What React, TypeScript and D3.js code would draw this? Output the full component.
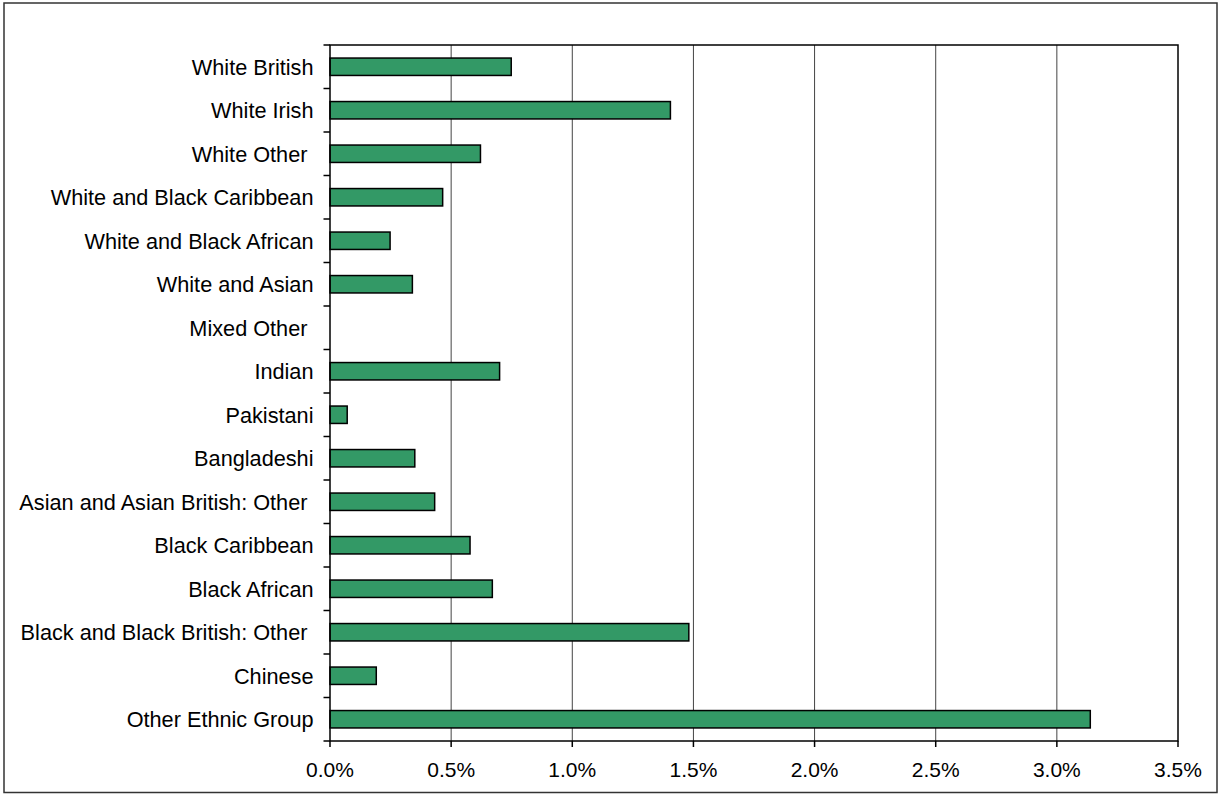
import React from "react";
import * as d3 from "d3";

const categories = [
  "White British",
  "White Irish",
  "White Other ",
  "White and Black Caribbean",
  "White and Black African",
  "White and Asian",
  "Mixed Other ",
  "Indian",
  "Pakistani",
  "Bangladeshi",
  "Asian and Asian British: Other ",
  "Black Caribbean",
  "Black African",
  "Black and Black British: Other ",
  "Chinese",
  "Other Ethnic Group",
];

const values = [
  0.748, 1.405, 0.621, 0.465, 0.248, 0.34, 0, 0.70, 0.071, 0.35, 0.432, 0.578,
  0.67, 1.481, 0.191, 3.138,
];

const xTicks = [0, 0.5, 1.0, 1.5, 2.0, 2.5, 3.0, 3.5];

const W = 1219;
const H = 794;
const plot = { left: 330, right: 1178, top: 45, bottom: 741 };
const FONT = "'Liberation Sans', Arial, Helvetica, sans-serif";

export default function App() {
  const x = d3.scaleLinear().domain([0, 3.5]).range([plot.left, plot.right]);
  const y = d3
    .scaleBand<string>()
    .domain(categories)
    .range([plot.top, plot.bottom])
    .paddingInner(0.6)
    .paddingOuter(0.3);
  const step = (plot.bottom - plot.top) / categories.length;
  const bounds = d3.range(categories.length + 1).map((i) => plot.top + i * step);

  return (
    <svg
      width={W}
      height={H}
      style={{ position: "absolute", left: 0, top: 0, background: "#fff" }}
    >
      <rect x={4} y={3} width={1213} height={789.5} fill="#fff" stroke="#333" strokeWidth={1.5} />
      {/* gridlines */}
      {xTicks.slice(1, -1).map((t) => (
        <line
          key={"g" + t}
          x1={x(t)}
          x2={x(t)}
          y1={plot.top}
          y2={plot.bottom}
          stroke="#444"
          strokeWidth={1}
        />
      ))}
      {/* bars */}
      {categories.map((c, i) =>
        values[i] > 0 ? (
          <rect
            key={"b" + i}
            x={x(0)}
            y={y(c)!}
            width={x(values[i]) - x(0)}
            height={y.bandwidth()}
            fill="#339966"
            stroke="#000"
            strokeWidth={1.5}
          />
        ) : null
      )}
      {/* plot frame */}
      <rect
        x={plot.left}
        y={plot.top}
        width={plot.right - plot.left}
        height={plot.bottom - plot.top}
        fill="none"
        stroke="#000"
        strokeWidth={1.5}
      />
      {/* y ticks */}
      {bounds.map((b, i) => (
        <line key={"yt" + i} x1={plot.left - 6.5} x2={plot.left} y1={b} y2={b} stroke="#000" strokeWidth={1.5} />
      ))}
      {/* x ticks */}
      {xTicks.map((t) => (
        <line key={"xt" + t} x1={x(t)} x2={x(t)} y1={plot.bottom} y2={plot.bottom + 6} stroke="#000" strokeWidth={1.5} />
      ))}
      {/* y labels */}
      {categories.map((c) => (
        <text
          key={"l" + c}
          x={plot.left - 16.5}
          y={y(c)! + y.bandwidth() / 2}
          dy="0.36em"
          textAnchor="end"
          fontFamily={FONT}
          fontSize={21.7}
          fill="#000"
          style={{ whiteSpace: "pre" }}
        >
          {c}
        </text>
      ))}
      {/* x labels */}
      {xTicks.map((t) => (
        <text
          key={"xl" + t}
          x={x(t)}
          y={777}
          textAnchor="middle"
          fontFamily={FONT}
          fontSize={21}
          fill="#000"
        >
          {d3.format(".1f")(t) + "%"}
        </text>
      ))}
    </svg>
  );
}
